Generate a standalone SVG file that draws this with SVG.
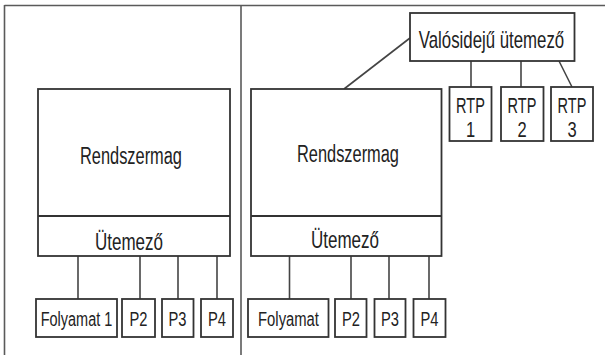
<svg xmlns="http://www.w3.org/2000/svg" width="605" height="355" viewBox="0 0 605 355">
<style>
.frame{stroke:#5a5a5a;stroke-width:1.6;fill:none}
.box{fill:#fff;stroke:#333;stroke-width:1.8}
.sep{stroke:#333;stroke-width:1.8;fill:none}
.con{stroke:#444;stroke-width:1.6;fill:none}
text{font-family:"Liberation Sans",Arial,sans-serif;fill:#222;text-anchor:middle}
.lg{font-size:23px}
.sm{font-size:21px}
.rt{font-size:22px}
</style>
<rect width="605" height="355" fill="#fff"/>
<g id="frame">
<line class="frame" x1="4.5" y1="5.5" x2="605" y2="5.5"/>
<line class="frame" x1="4.5" y1="5" x2="4.5" y2="355"/>
<line class="frame" x1="241" y1="5" x2="241" y2="355"/>
</g>
<g id="connectors">
<line class="con" x1="78" y1="256" x2="78" y2="299"/>
<line class="con" x1="140" y1="256" x2="140" y2="299"/>
<line class="con" x1="178" y1="256" x2="178" y2="299"/>
<line class="con" x1="217" y1="256" x2="217" y2="299"/>
<line class="con" x1="289.5" y1="256" x2="289.5" y2="299"/>
<line class="con" x1="351" y1="256" x2="351" y2="299"/>
<line class="con" x1="389" y1="256" x2="389" y2="299"/>
<line class="con" x1="429" y1="256" x2="429" y2="299"/>
<line class="con" x1="410" y1="38" x2="344" y2="89"/>
<line class="con" x1="471" y1="61" x2="471" y2="87"/>
<line class="con" x1="521" y1="61" x2="521" y2="87"/>
<line class="con" x1="559" y1="61" x2="572" y2="87"/>
</g>
<g id="kernel-left">
<rect class="box" x="38" y="89" width="192" height="167"/>
<line class="sep" x1="38" y1="216" x2="230" y2="216"/>
<text class="lg" transform="translate(131,164) scale(0.712,1)">Rendszermag</text>
<text class="lg" transform="translate(129,250) scale(0.74,1)">Ütemező</text>
</g>
<g id="folyamat1-left">
<rect class="box" x="36" y="299" width="81" height="38"/>
<text class="sm" transform="translate(76.5,326) scale(0.69,1)">Folyamat 1</text>
</g>
<g id="p2-left">
<rect class="box" x="122" y="299" width="33" height="38"/>
<text class="sm" transform="translate(138.5,326) scale(0.7,1)">P2</text>
</g>
<g id="p3-left">
<rect class="box" x="162" y="299" width="31.5" height="38"/>
<text class="sm" transform="translate(177.5,326) scale(0.7,1)">P3</text>
</g>
<g id="p4-left">
<rect class="box" x="201" y="299" width="32" height="38"/>
<text class="sm" transform="translate(217,326) scale(0.7,1)">P4</text>
</g>
<g id="kernel-right">
<rect class="box" x="251" y="89" width="190.5" height="167"/>
<line class="sep" x1="251" y1="216" x2="441.5" y2="216"/>
<text class="lg" transform="translate(348,162) scale(0.712,1)">Rendszermag</text>
<text class="lg" transform="translate(345,248) scale(0.74,1)">Ütemező</text>
</g>
<g id="folyamat-right">
<rect class="box" x="248" y="299" width="80.5" height="38"/>
<text class="sm" transform="translate(288.5,326) scale(0.706,1)">Folyamat</text>
</g>
<g id="p2-right">
<rect class="box" x="335" y="299" width="31.5" height="38"/>
<text class="sm" transform="translate(351,326) scale(0.7,1)">P2</text>
</g>
<g id="p3-right">
<rect class="box" x="374.5" y="299" width="31" height="38"/>
<text class="sm" transform="translate(390,326) scale(0.7,1)">P3</text>
</g>
<g id="p4-right">
<rect class="box" x="413.5" y="299" width="32" height="38"/>
<text class="sm" transform="translate(429.5,326) scale(0.7,1)">P4</text>
</g>
<g id="rt-scheduler">
<rect class="box" x="410" y="13" width="164.5" height="48"/>
<text class="lg" transform="translate(491.5,48) scale(0.731,1)">Valósidejű ütemező</text>
</g>
<g id="rtp1">
<rect class="box" x="449.5" y="87" width="42" height="54"/>
<text class="rt" transform="translate(470.5,113) scale(0.66,1)">RTP</text>
<text class="rt" transform="translate(470.5,137) scale(0.75,1)">1</text>
</g>
<g id="rtp2">
<rect class="box" x="501" y="87" width="42.5" height="54"/>
<text class="rt" transform="translate(522,113) scale(0.66,1)">RTP</text>
<text class="rt" transform="translate(522,137) scale(0.75,1)">2</text>
</g>
<g id="rtp3">
<rect class="box" x="551" y="87" width="42" height="54"/>
<text class="rt" transform="translate(572,113) scale(0.66,1)">RTP</text>
<text class="rt" transform="translate(572,137) scale(0.75,1)">3</text>
</g>
</svg>
